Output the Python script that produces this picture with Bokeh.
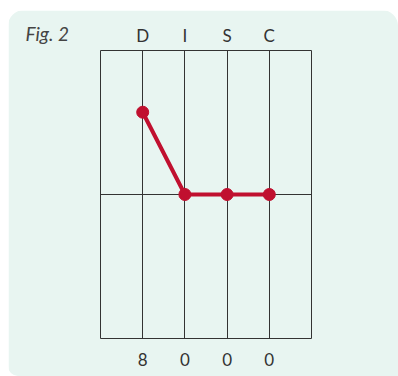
from bokeh.plotting import figure
from bokeh.models import FixedTicker, Range1d, Title, LinearAxis
from bokeh.embed import file_html
from bokeh.resources import INLINE

# Data
categories = ["D", "I", "S", "C"]
positions = [1, 2, 3, 4]
values = [8, 0, 0, 0]
value_labels = ["8", "0", "0", "0"]
fig_title = "Fig. 2"

PANEL = "#e8f5f1"
LINE = "#c0102f"
GRID = "#333333"
TEXT = "#333333"
FONT = "Lato"

p = figure(width=390, height=366, output_backend="svg", toolbar_location=None,
           x_range=Range1d(0, 5), y_range=Range1d(-14, 14),
           x_axis_location=None, y_axis_location=None,
           min_border_left=92, min_border_right=87, min_border_top=40, min_border_bottom=38)
p.styles = {"border-radius": "16px 16px 0 10px", "overflow": "hidden",
            "margin-top": "10px", "margin-left": "8px"}
p.background_fill_color = PANEL
p.border_fill_color = PANEL
p.outline_line_color = GRID
p.outline_line_width = 1

bottom = LinearAxis(ticker=FixedTicker(ticks=positions),
                    major_label_overrides={pos: lab for pos, lab in zip(positions, value_labels)})
top = LinearAxis(ticker=FixedTicker(ticks=positions),
                 major_label_overrides={pos: c for pos, c in zip(positions, categories)})
p.add_layout(bottom, "below")
p.add_layout(top, "above")
for ax in (bottom, top):
    ax.axis_line_color = None
    ax.major_tick_line_color = None
    ax.minor_tick_line_color = None
    ax.major_tick_in = 0
    ax.major_tick_out = 0
    ax.major_label_text_font = FONT
    ax.major_label_text_font_size = "17px"
    ax.major_label_text_color = TEXT
bottom.major_label_standoff = 14
top.major_label_standoff = 5

title = Title(text=fig_title, align="left", offset=-75, standoff=-46,
              text_font=FONT, text_font_style="italic", text_font_size="19px",
              text_color="#444444")
p.add_layout(title, "above")

p.xgrid.ticker = FixedTicker(ticks=positions)
p.ygrid.ticker = FixedTicker(ticks=[0])
p.xgrid.grid_line_color = GRID
p.ygrid.grid_line_color = GRID
p.xgrid.grid_line_width = 1
p.ygrid.grid_line_width = 1

p.line(positions, values, line_color=LINE, line_width=4)
p.scatter(positions, values, size=12, fill_color=LINE, line_color=LINE)

open("out.html", "w").write(file_html(p, INLINE))
